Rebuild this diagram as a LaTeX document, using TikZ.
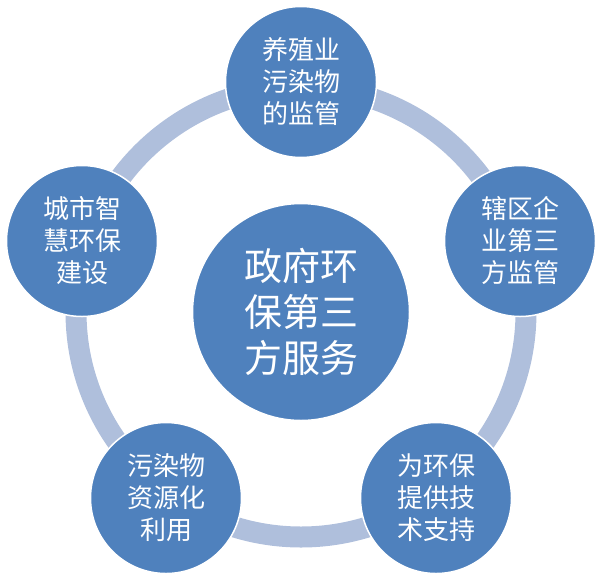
\documentclass[tikz,border=0pt]{standalone}
\usepackage{fontspec}
\newfontfamily\cjk{Noto Sans CJK SC}
\definecolor{ringc}{HTML}{AFBFDC}
\definecolor{nodec}{HTML}{4F81BD}
\begin{document}
\begin{tikzpicture}[x=1pt,y=-1pt,
  outer/.style={circle,fill=nodec,draw=white,line width=1.5pt,minimum size=151pt,inner sep=0pt,
    text=white,align=center,font=\cjk\fontsize{26}{32}\selectfont},
  inner/.style={circle,fill=nodec,draw=white,line width=1.5pt,minimum size=217pt,inner sep=0pt,
    text=white,align=center,font=\cjk\fontsize{38}{46}\selectfont},
  ringstyle/.style={draw=ringc,line width=21pt}]
\useasboundingbox (0,0) rectangle (601,584);
\coordinate (c) at (301,312);
\draw[ringstyle] (c) circle[radius=225];
\node[inner] (center) at (c) {政府环\\保第三\\方服务};
\node[outer] (n1) at (301,82) {养殖业\\污染物\\的监管};
\node[outer] (n2) at (520,241) {辖区企\\业第三\\方监管};
\node[outer] (n3) at (436,498) {为环保\\提供技\\术支持};
\node[outer] (n4) at (166,498) {污染物\\资源化\\利用};
\node[outer] (n5) at (82,241) {城市智\\慧环保\\建设};
\end{tikzpicture}
\end{document}
